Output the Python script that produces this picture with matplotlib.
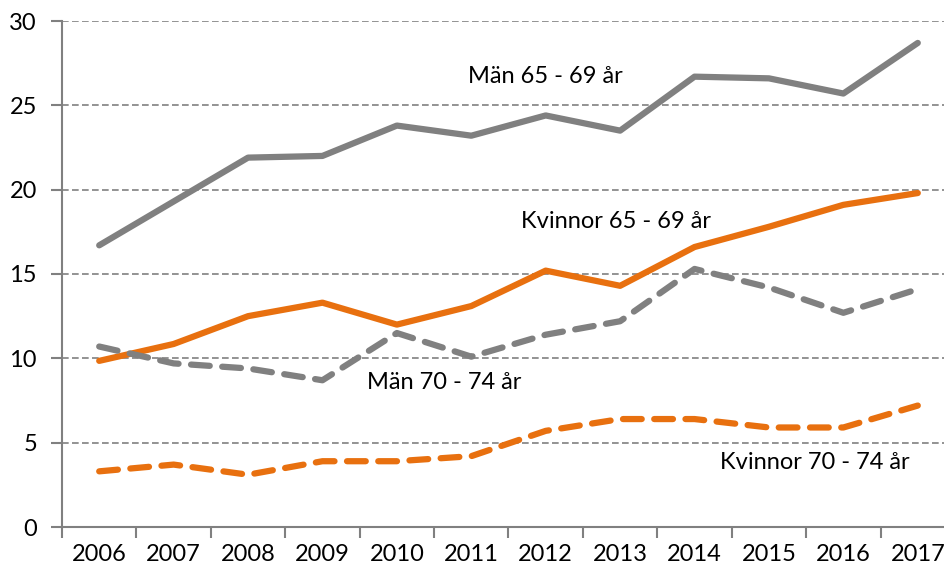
import numpy as np
import matplotlib.pyplot as plt

# --- Données ---
ar = ["2006", "2007", "2008", "2009", "2010", "2011",
      "2012", "2013", "2014", "2015", "2016", "2017"]
man_65_69 = [16.7, 19.3, 21.9, 22.0, 23.8, 23.2, 24.4, 23.5, 26.7, 26.6, 25.7, 28.7]
kvinnor_65_69 = [9.85, 10.85, 12.5, 13.3, 12.0, 13.1, 15.2, 14.3, 16.6, 17.8, 19.1, 19.8]
man_70_74 = [10.7, 9.7, 9.4, 8.7, 11.5, 10.1, 11.4, 12.2, 15.3, 14.2, 12.7, 14.1]
kvinnor_70_74 = [3.3, 3.7, 3.1, 3.9, 3.9, 4.2, 5.7, 6.4, 6.4, 5.9, 5.9, 7.2]

plt.rcParams["font.family"] = ["Lato", "DejaVu Sans"]
GRIS = "#808080"
ORANGE = "#E8700F"

fig = plt.figure(figsize=(9.45, 5.73), dpi=100)
# l'axe dépasse à droite de l'image, comme dans l'original
ax = fig.add_axes([62 / 945, 46 / 573, 893 / 945, 506 / 573])

x = np.arange(len(ar))
ax.plot(x, man_65_69, color=GRIS, linewidth=4.5, solid_capstyle="round")
ax.plot(x, kvinnor_65_69, color=ORANGE, linewidth=4.5, solid_capstyle="round")
ax.plot(x, man_70_74, color=GRIS, linewidth=4.5, linestyle=(0, (3, 2)),
        dash_capstyle="round")
ax.plot(x, kvinnor_70_74, color=ORANGE, linewidth=4.5, linestyle=(0, (3, 2)),
        dash_capstyle="round")

# Étiquettes des séries
ax.text(6.0, 26.7, "Män 65 - 69 år", fontsize=17, ha="center", va="center")
ax.text(6.94, 18.1, "Kvinnor 65 - 69 år", fontsize=17, ha="center", va="center")
ax.text(4.63, 8.55, "Män 70 - 74 år", fontsize=17, ha="center", va="center")
ax.text(9.62, 3.8, "Kvinnor 70 - 74 år", fontsize=17, ha="center", va="center")

# Axes
ax.set_xlim(-0.5, len(ar) - 0.5)
ax.set_ylim(0, 30)
ax.set_yticks(range(0, 31, 5))
ax.set_xticks(x)
ax.set_xticklabels(ar)
ax.set_xticks(np.arange(-0.5, len(ar), 1), minor=True)
ax.tick_params(axis="x", which="major", length=0, labelsize=17, pad=12)
ax.tick_params(axis="x", which="minor", length=8, color=GRIS, width=1.5)
ax.tick_params(axis="y", length=8, color=GRIS, width=1.5, labelsize=17, pad=10)

for y in range(5, 31, 5):
    ax.axhline(y, color=GRIS, linestyle=(0, (4, 2)), linewidth=1.2, zorder=0)

for cote in ["top", "right"]:
    ax.spines[cote].set_visible(False)
for cote in ["left", "bottom"]:
    ax.spines[cote].set_color(GRIS)
    ax.spines[cote].set_linewidth(1.5)

plt.savefig("out.png", dpi=100)
